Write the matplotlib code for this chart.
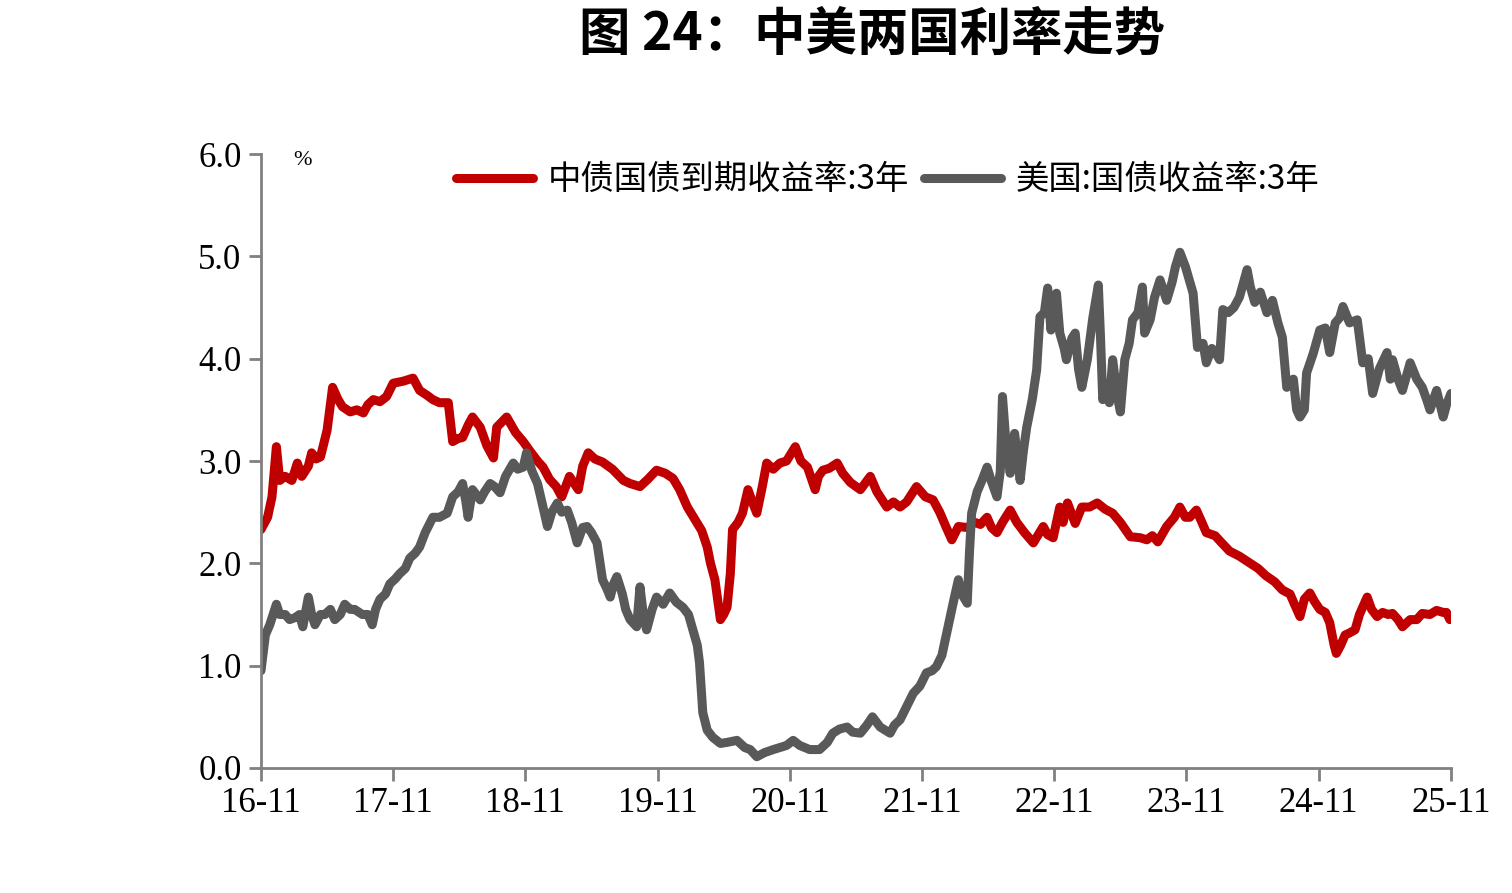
import matplotlib
matplotlib.use("Agg")
import matplotlib.pyplot as plt
import numpy as np

plt.rcParams['font.family'] = ['Noto Sans CJK SC', 'DejaVu Sans']

# months since 2016-11
cn_t = [0.0, 0.6, 1.0, 1.4, 1.7, 2.2, 2.8, 3.3, 3.7, 4.3, 4.6, 5.0, 5.4, 6.0, 6.5,
        7.0, 7.4, 8.1, 8.7, 9.3, 9.7, 10.2, 10.8, 11.4, 12.0, 12.9, 13.8, 14.4,
        15.1, 15.6, 16.2, 17.0, 17.4, 17.9, 18.3, 18.8, 19.2, 19.9, 20.5, 21.1,
        21.4, 22.3, 23.1, 23.8, 24.4, 25.1, 25.6, 26.2, 26.8, 27.3, 28.0, 28.8,
        29.2, 29.7, 30.3, 31.0, 31.9, 32.9, 33.5, 34.4, 35.1, 35.9, 36.7, 37.4,
        38.0, 38.7, 39.6, 40.0, 40.5, 40.8, 41.2, 41.7, 42.0, 42.3, 42.6, 42.8,
        43.3, 43.7, 44.2, 44.6, 45.0, 45.5, 45.9, 46.5, 47.1, 47.7, 48.5, 49.0,
        49.6, 50.3, 50.6, 51.0, 51.6, 52.3, 52.8, 53.5, 54.4, 55.3, 55.9, 56.8,
        57.4, 58.0, 58.6, 59.5, 60.3, 61.0, 61.6, 62.2, 62.7, 63.3, 64.1, 64.8,
        65.3, 65.9, 66.3, 66.8, 67.3, 68.0, 68.6, 69.3, 70.1, 71.0, 71.4, 71.9,
        72.5, 72.8, 73.2, 73.9, 74.5, 75.2, 75.9, 76.6, 77.3, 78.0, 78.9, 79.8,
        80.4, 80.9, 81.4, 82.2, 82.9, 83.4, 83.9, 84.3, 84.9, 85.4, 85.8, 86.6,
        87.2, 87.9, 88.8, 89.8, 90.5, 91.2, 92.0, 92.7, 93.4, 93.8, 94.3, 94.7,
        95.2, 95.6, 96.1, 96.6, 97.0, 97.4, 97.6, 98.0, 98.4, 98.8, 99.3, 99.7,
        100.4, 100.8, 101.3, 101.8, 102.3, 102.7, 103.2, 103.6, 104.3, 104.9,
        105.4, 106.1, 106.7, 107.3, 107.6, 107.9]
cn_3y = [2.33, 2.45, 2.65, 3.14, 2.81, 2.85, 2.81, 2.98, 2.85, 2.95, 3.08, 3.02,
         3.04, 3.30, 3.72, 3.60, 3.53, 3.48, 3.50, 3.47, 3.55, 3.60, 3.58, 3.63,
         3.76, 3.78, 3.81, 3.69, 3.64, 3.60, 3.57, 3.57, 3.19, 3.22, 3.23, 3.35,
         3.43, 3.33, 3.15, 3.03, 3.33, 3.43, 3.28, 3.19, 3.10, 3.00, 2.94, 2.82,
         2.75, 2.65, 2.85, 2.72, 2.95, 3.08, 3.02, 2.99, 2.92, 2.81, 2.78, 2.75,
         2.82, 2.91, 2.88, 2.83, 2.72, 2.55, 2.39, 2.32, 2.16, 2.00, 1.84, 1.45,
         1.50, 1.57, 1.90, 2.33, 2.40, 2.49, 2.72, 2.60, 2.49, 2.75, 2.98, 2.92,
         2.98, 3.00, 3.14, 3.00, 2.94, 2.72, 2.85, 2.91, 2.93, 2.98, 2.88, 2.79,
         2.72, 2.85, 2.70, 2.55, 2.60, 2.55, 2.60, 2.75, 2.65, 2.62, 2.50, 2.35,
         2.23, 2.36, 2.35, 2.40, 2.38, 2.45, 2.35, 2.30, 2.40, 2.52, 2.40, 2.30,
         2.20, 2.36, 2.28, 2.25, 2.55, 2.40, 2.59, 2.39, 2.55, 2.55, 2.59, 2.53,
         2.49, 2.40, 2.26, 2.25, 2.23, 2.27, 2.21, 2.36, 2.45, 2.55, 2.45, 2.45,
         2.52, 2.40, 2.30, 2.27, 2.20, 2.12, 2.07, 2.00, 1.95, 1.88, 1.82, 1.74,
         1.70, 1.60, 1.48, 1.65, 1.71, 1.63, 1.55, 1.52, 1.42, 1.20, 1.12, 1.20,
         1.30, 1.32, 1.35, 1.50, 1.67, 1.55, 1.48, 1.52, 1.50, 1.51, 1.45, 1.38,
         1.45, 1.45, 1.51, 1.50, 1.54, 1.52, 1.52, 1.45]

us_t = [0.0, 0.4, 0.8, 1.4, 1.7, 2.2, 2.6, 3.1, 3.5, 3.8, 4.3, 4.6, 4.9, 5.4, 5.8,
        6.3, 6.7, 7.2, 7.6, 8.1, 8.5, 9.2, 9.7, 10.1, 10.4, 10.8, 11.3, 11.7,
        12.2, 12.6, 13.1, 13.5, 14.0, 14.4, 14.9, 15.6, 16.2, 16.9, 17.4, 17.9,
        18.3, 18.6, 18.8, 19.2, 19.9, 20.3, 20.8, 21.2, 21.7, 22.2, 22.9, 23.3,
        23.8, 24.1, 24.6, 25.1, 25.6, 26.0, 26.4, 26.9, 27.3, 27.8, 28.2, 28.7,
        29.2, 29.6, 30.0, 30.5, 31.0, 31.4, 31.7, 32.0, 32.3, 32.8, 33.1, 33.5,
        34.1, 34.4, 34.7, 35.0, 35.5, 35.9, 36.5, 37.1, 37.7, 38.3, 38.8, 39.2,
        39.6, 39.8, 40.1, 40.5, 41.0, 41.7, 42.3, 43.2, 43.9, 44.4, 45.0, 45.7,
        46.5, 47.1, 47.7, 48.3, 48.9, 49.8, 50.7, 51.4, 51.9, 52.5, 53.2, 53.7,
        54.4, 55.0, 55.5, 56.2, 57.1, 57.5, 58.0, 58.6, 59.2, 59.8, 60.4, 60.9,
        61.3, 61.8, 62.3, 62.5, 62.9, 63.3, 63.6, 64.1, 64.3, 64.5, 65.0, 65.4,
        65.9, 66.3, 66.8, 67.1, 67.3, 67.6, 68.0, 68.2, 68.4, 68.7, 68.9, 69.2,
        69.5, 70.0, 70.4, 70.7, 71.1, 71.4, 71.7, 72.0, 72.2, 72.5, 72.9, 73.1,
        73.6, 73.9, 74.2, 74.5, 75.0, 75.5, 76.0, 76.2, 76.4, 76.8, 77.0, 77.3,
        77.7, 78.0, 78.4, 78.8, 79.1, 79.6, 80.0, 80.2, 80.7, 81.1, 81.6, 82.2,
        82.7, 83.0, 83.4, 83.9, 84.3, 84.6, 85.0, 85.5, 85.8, 86.3, 86.7, 87.0,
        87.3, 87.8, 88.3, 88.8, 89.5, 89.8, 90.2, 90.7, 91.3, 91.8, 92.3, 92.7,
        93.1, 93.7, 94.0, 94.3, 94.7, 94.9, 95.5, 96.1, 96.6, 97.0, 97.5, 97.9,
        98.2, 98.8, 99.5, 100.0, 100.5, 100.9, 101.5, 102.2, 102.5, 102.7, 103.2,
        103.6, 104.3, 104.9, 105.4, 105.8, 106.1, 106.7, 107.3, 107.6, 108.0]
us_3y = [0.95, 1.30, 1.40, 1.60, 1.50, 1.50, 1.45, 1.47, 1.50, 1.38, 1.67, 1.50,
         1.40, 1.50, 1.50, 1.55, 1.45, 1.50, 1.60, 1.55, 1.55, 1.50, 1.50, 1.40,
         1.55, 1.65, 1.70, 1.80, 1.85, 1.90, 1.95, 2.05, 2.10, 2.16, 2.30, 2.45,
         2.45, 2.49, 2.65, 2.70, 2.78, 2.60, 2.45, 2.72, 2.62, 2.70, 2.78, 2.75,
         2.69, 2.85, 2.98, 2.92, 2.94, 3.08, 2.90, 2.78, 2.55, 2.36, 2.50, 2.59,
         2.50, 2.52, 2.40, 2.20, 2.35, 2.36, 2.30, 2.20, 1.84, 1.75, 1.67, 1.80,
         1.87, 1.70, 1.55, 1.45, 1.38, 1.77, 1.50, 1.35, 1.55, 1.67, 1.60, 1.71,
         1.62, 1.57, 1.50, 1.35, 1.20, 1.03, 0.54, 0.37, 0.30, 0.24, 0.25, 0.27,
         0.20, 0.18, 0.11, 0.15, 0.18, 0.20, 0.22, 0.27, 0.22, 0.18, 0.18, 0.25,
         0.34, 0.38, 0.40, 0.35, 0.34, 0.42, 0.50, 0.40, 0.34, 0.42, 0.47, 0.60,
         0.73, 0.80, 0.93, 0.95, 0.99, 1.10, 1.35, 1.45, 1.65, 1.84, 1.70, 1.61,
         2.10, 2.49, 2.70, 2.80, 2.94, 2.80, 2.65, 2.90, 3.63, 3.20, 2.88, 3.10,
         3.27, 3.00, 2.81, 3.10, 3.33, 3.60, 3.89, 4.41, 4.45, 4.69, 4.28, 4.60,
         4.64, 4.25, 4.10, 3.99, 4.20, 4.25, 3.90, 3.72, 3.99, 4.40, 4.72, 4.20,
         3.60, 3.75, 3.57, 3.99, 3.65, 3.48, 3.99, 4.15, 4.38, 4.45, 4.70, 4.25,
         4.38, 4.60, 4.77, 4.57, 4.75, 4.90, 5.04, 4.90, 4.75, 4.64, 4.11, 4.15,
         3.96, 4.10, 4.05, 3.99, 4.48, 4.45, 4.50, 4.60, 4.87, 4.70, 4.55, 4.65,
         4.45, 4.57, 4.35, 4.21, 3.72, 3.80, 3.50, 3.43, 3.50, 3.86, 4.05, 4.28,
         4.30, 4.06, 4.35, 4.40, 4.51, 4.35, 4.38, 3.96, 4.00, 3.66, 3.90, 4.06,
         3.80, 3.99, 3.80, 3.69, 3.96, 3.80, 3.72, 3.60, 3.50, 3.69, 3.43, 3.55,
         3.66]

x_ticks = [0, 12, 24, 36, 48, 60, 72, 84, 96, 108]
x_labels = ["16-11", "17-11", "18-11", "19-11", "20-11", "21-11", "22-11",
            "23-11", "24-11", "25-11"]
y_ticks = [0.0, 1.0, 2.0, 3.0, 4.0, 5.0, 6.0]

fig = plt.figure(figsize=(15.12, 8.93), dpi=100)
ax = fig.add_axes([0.1726, 0.14, 0.787, 0.6875])

ax.plot(cn_t, cn_3y, color='#C00000', lw=6.5, solid_joinstyle='round',
        solid_capstyle='round', label='中债国债到期收益率:3年')
ax.plot(us_t, us_3y, color='#595959', lw=6.5, solid_joinstyle='round',
        solid_capstyle='round', label='美国:国债收益率:3年')

ax.set_xlim(0, 108)
ax.set_ylim(0, 6)
ax.set_xticks(x_ticks)
ax.set_xticklabels(x_labels)
ax.set_yticks(y_ticks)
ax.set_yticklabels([f"{v:.1f}" for v in y_ticks])

for s in ['top', 'right']:
    ax.spines[s].set_visible(False)
for s in ['left', 'bottom']:
    ax.spines[s].set_color('#808080')
    ax.spines[s].set_linewidth(2)
ax.tick_params(axis='both', direction='out', length=9, width=2, color='#808080',
               labelsize=25, pad=5)
for lab in ax.get_xticklabels() + ax.get_yticklabels():
    lab.set_fontfamily('Liberation Serif')

ax.text(0.035, 0.99, '%', transform=ax.transAxes, fontsize=16,
        family='Liberation Serif', ha='center', va='center')

leg = ax.legend(loc='center', bbox_to_anchor=(0.527, 0.958), ncol=2,
                frameon=False, fontsize=24, handlelength=2.3, handletextpad=0.45,
                columnspacing=0.45)
for h in leg.get_lines():
    h.set_linewidth(6.5)

fig.text(0.577, 0.962, '图 24：中美两国利率走势', fontsize=37, fontweight='bold',
         ha='center', va='center')

fig.savefig('out.png', dpi=100)
